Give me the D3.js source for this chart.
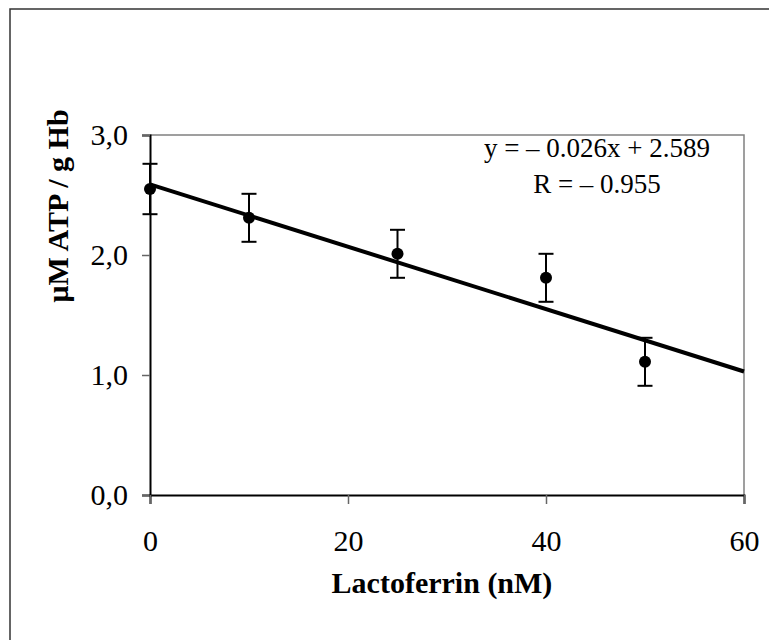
<!DOCTYPE html>
<html>
<head>
<meta charset="utf-8">
<script src="https://cdn.jsdelivr.net/npm/d3@7"></script>
<style>
  html, body { margin: 0; padding: 0; background: #fff; }
  svg { display: block; }
  text { font-family: "Liberation Serif", "Times New Roman", serif; fill: #000; }
</style>
</head>
<body>
<svg id="chart" width="769" height="640"></svg>
<script>
// ---- data ----
const lactoferrin = [0, 10, 25, 40, 50];
const atpMeans   = [2.55, 2.31, 2.01, 1.81, 1.11];
const atpErrors  = [0.21, 0.20, 0.20, 0.20, 0.20];
const xTicks = [0, 20, 40, 60];
const yTicks = [0, 1, 2, 3];
const slope = -0.026;
const intercept = 2.589;
const fitRange = [0, 60];
const equationLines = ["y = \u2013 0.026x + 2.589", "R = \u2013 0.955"];
const xTitle = "Lactoferrin (nM)";
const yTitle = "\u03bcM ATP / g Hb";

// ---- layout ----
const svg = d3.select("#chart");
const pLeft = 150, pRight = 744, pTop = 135, pBottom = 495;

const x = d3.scaleLinear().domain([0, 60]).range([pLeft, pRight]);
const y = d3.scaleLinear().domain([0, 3]).range([pBottom, pTop]);

// outer frame (top and left edges visible)
svg.append("path")
  .attr("d", "M10,660 L10,9 L780,9")
  .attr("fill", "none").attr("stroke", "#333").attr("stroke-width", 1.5);

// plot frame (top/right gray)
svg.append("path")
  .attr("d", `M${pLeft},${pTop} L${pRight},${pTop} L${pRight},${pBottom}`)
  .attr("fill", "none").attr("stroke", "#808080").attr("stroke-width", 1.5);

// y axis
const yAxis = svg.append("g").attr("transform", `translate(${pLeft},0)`)
  .call(d3.axisLeft(y).tickValues(yTicks).tickSize(8).tickPadding(14)
    .tickFormat(d => d3.format(".1f")(d).replace(".", ",")));
yAxis.select(".domain").attr("stroke", "#000").attr("stroke-width", 2);
yAxis.selectAll(".tick line").attr("stroke", "#666").attr("stroke-width", 1.5);
yAxis.selectAll(".tick text").attr("font-size", 30)
  .attr("font-family", "Liberation Serif").attr("fill", "#000");

// x axis
const xAxis = svg.append("g").attr("transform", `translate(0,${pBottom})`)
  .call(d3.axisBottom(x).tickValues(xTicks).tickSize(9).tickPadding(26));
xAxis.select(".domain").attr("stroke", "#000").attr("stroke-width", 2);
xAxis.selectAll(".tick line").attr("stroke", "#666").attr("stroke-width", 1.5);
xAxis.selectAll(".tick text").attr("font-size", 30)
  .attr("font-family", "Liberation Serif").attr("fill", "#000");

// regression line
const fitLine = d3.line().x(d => x(d)).y(d => y(slope * d + intercept));
svg.append("path").datum(fitRange)
  .attr("d", fitLine)
  .attr("fill", "none").attr("stroke", "#000").attr("stroke-width", 4);

// error bars
const data = lactoferrin.map((v, i) => ({ x: v, m: atpMeans[i], e: atpErrors[i] }));
const eb = svg.append("g").selectAll("g").data(data).join("g");
eb.append("line")
  .attr("x1", d => x(d.x)).attr("x2", d => x(d.x))
  .attr("y1", d => y(d.m + d.e)).attr("y2", d => y(d.m - d.e))
  .attr("stroke", "#000").attr("stroke-width", 2);
eb.selectAll("line.cap").data(d => [[d.x, d.m + d.e], [d.x, d.m - d.e]]).join("line")
  .attr("class", "cap")
  .attr("x1", d => x(d[0]) - 7.5).attr("x2", d => x(d[0]) + 7.5)
  .attr("y1", d => y(d[1])).attr("y2", d => y(d[1]))
  .attr("stroke", "#000").attr("stroke-width", 2);

// points
svg.append("g").selectAll("circle").data(data).join("circle")
  .attr("cx", d => x(d.x)).attr("cy", d => y(d.m)).attr("r", 6)
  .attr("fill", "#000");

// equation text
svg.append("g").selectAll("text").data(equationLines).join("text")
  .attr("x", 597).attr("y", (d, i) => 157 + i * 36)
  .attr("text-anchor", "middle").attr("font-size", 27)
  .text(d => d);

// axis titles
svg.append("text")
  .attr("x", (pLeft + pRight) / 2 - 5).attr("y", 593)
  .attr("text-anchor", "middle").attr("font-size", 30).attr("font-weight", "bold")
  .text(xTitle);

svg.append("text")
  .attr("transform", "translate(68,206) rotate(-90)")
  .attr("text-anchor", "middle").attr("font-size", 30).attr("font-weight", "bold")
  .text(yTitle);
</script>
</body>
</html>
